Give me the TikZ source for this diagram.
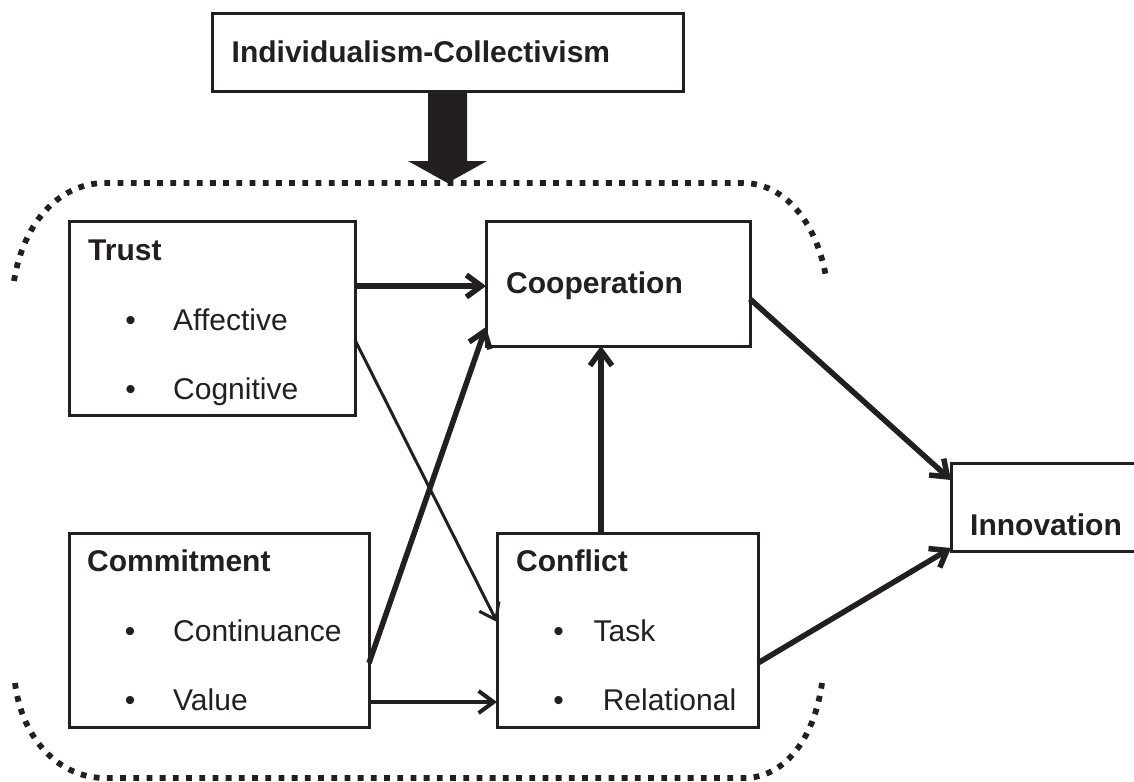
\documentclass[tikz,border=0pt]{standalone}
\usepackage{fontspec}
\setmainfont{Liberation Sans}
\usetikzlibrary{arrows.meta,calc}
\definecolor{ink}{HTML}{231F20}
\begin{document}
\begin{tikzpicture}[x=1pt,y=-1pt,
  box/.style={draw=ink,line width=3pt,rectangle,inner sep=0pt,outer sep=0pt,anchor=north west},
  ttl/.style={anchor=base west,inner sep=0pt,font=\fontsize{30}{36}\selectfont\bfseries,text=ink},
  itm/.style={anchor=base west,inner sep=0pt,font=\fontsize{30}{36}\selectfont,text=ink},
  bul/.style={anchor=base,inner sep=0pt,font=\fontsize{30}{36}\selectfont,text=ink},
  arr/.style={draw=ink,-{Straight Barb[length=15pt,width=22pt]}},
  bigarrow/.style={arr,line width=5.5pt},
  midarrow/.style={arr,line width=4pt},
  thinarrow/.style={arr,line width=3pt},
  dots/.style={draw=ink,line width=5.8pt,dash pattern=on 5.8pt off 7.4pt}
]
\useasboundingbox (0,0) rectangle (1134,781);

% boxes
\node[box,minimum width=471pt,minimum height=78pt] (top) at (212,14) {};
\node[box,minimum width=286pt,minimum height=194pt] (trust) at (69,221) {};
\node[box,minimum width=264pt,minimum height=125pt] (coop) at (486,221) {};
\node[box,minimum width=300pt,minimum height=194pt] (commit) at (69,533) {};
\node[box,minimum width=261pt,minimum height=194pt] (conflict) at (497,533) {};
\node[box,minimum width=200pt,minimum height=88pt] (innov) at (951,463) {};

% texts
\node[ttl] (ttop) at (231.5,63) {Individualism-Collectivism};
\node[ttl] (ttrust) at (88,260) {Trust};
\node[bul] (b1) at (130.5,330) {•};
\node[itm] (taff) at (173,330) {Affective};
\node[bul] (b2) at (130.5,399) {•};
\node[itm] (tcog) at (173,399) {Cognitive};
\node[ttl] (tcoop) at (506,293) {Cooperation};
\node[ttl] (tcommit) at (87,571) {Commitment};
\node[bul] (b3) at (130,641) {•};
\node[itm] (tcont) at (173,641) {Continuance};
\node[bul] (b4) at (130,710) {•};
\node[itm] (tval) at (173,710) {Value};
\node[ttl] (tconf) at (516,571) {Conflict};
\node[bul] (b5) at (558.6,641) {•};
\node[itm] (ttask) at (593.5,641) {Task};
\node[bul] (b6) at (558.6,710) {•};
\node[itm] (trel) at (602.6,710) {Relational};
\node[ttl] (tinnov) at (970,535) {Innovation};

% dotted brackets
\coordinate (bt) at (447.5,183);
\path[dots] (14,281) .. controls (24,219) and (62,183) .. (105,183) -- (743,183)
  .. controls (782,183) and (816,219) .. (826,277);
\path[dots] (15,683) .. controls (22,740) and (60,778) .. (105,778) -- (744,778)
  .. controls (783,778) and (814,741) .. (822,683);

% fat arrow
\fill[ink] ($(top.south)+(-19.5,0)$) -- ($(top.south)+(19.5,0)$) -- ($(top.south)+(19.5,69)$)
  -- ($(top.south)+(39.5,69)$) -- (bt) -- ($(top.south)+(-39.5,69)$) -- ($(top.south)+(-19.5,69)$) -- cycle;

% connectors
\draw[bigarrow] ([yshift=-65pt]trust.north east) -- ([yshift=-65pt]coop.north west);
\draw[thinarrow] ([yshift=-119pt]trust.north east) -- ([yshift=-89pt]conflict.north west);
\draw[bigarrow] ([yshift=-130pt]commit.north east) -- ([yshift=19pt]coop.south west);
\draw[midarrow] ([yshift=-169pt]commit.north east) -- ([yshift=-169pt]conflict.north west);
\draw[bigarrow] ([xshift=104pt]conflict.north west) -- ([xshift=104pt]conflict.north west |- coop.south);
\draw[bigarrow] ([yshift=-78pt]coop.north east) -- ([yshift=-17pt]innov.north west);
\draw[bigarrow] ([yshift=-130pt]conflict.north east) -- ([yshift=3pt]innov.south west);
\end{tikzpicture}
\end{document}
